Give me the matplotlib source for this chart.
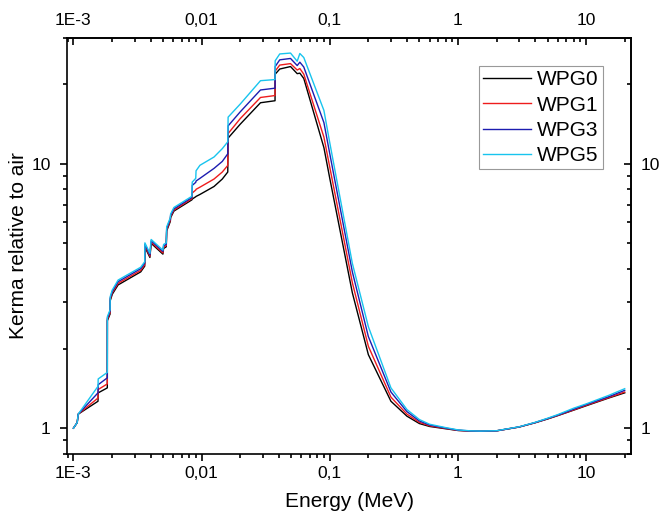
import numpy as np
import matplotlib
matplotlib.use("Agg")
import matplotlib.pyplot as plt
from matplotlib.ticker import LogLocator, FixedLocator, FixedFormatter, NullFormatter

plt.rcParams['font.family'] = ['Liberation Sans', 'DejaVu Sans']

# photon energy grid (keV); close pairs of points make the absorption edges
energy_kev = [1.0, 1.07, 1.09, 1.555, 1.56, 1.838, 1.84, 1.93, 1.935, 2.01, 2.23,
              3.35, 3.60, 3.61, 3.95, 4.04, 4.99, 5.05, 5.30, 5.34, 5.70, 5.73,
              6.08, 8.40, 8.45, 9.00, 9.05, 9.70, 12.5, 14.5, 16.0, 16.1, 20,
              28.8, 37.4, 37.5, 40.7, 49.4, 55.7, 58.4, 62.7, 90, 100, 150, 200,
              300, 400, 500, 600, 800, 1000, 1250, 1500, 2000, 3000, 4000, 5000,
              6000, 8000, 10000, 15000, 20000]

wpg0 = [1.00, 1.05, 1.13, 1.264, 1.36, 1.42, 2.55, 2.70, 3.03, 3.21, 3.48,
        3.90, 4.10, 4.84, 4.42, 5.00, 4.55, 4.78, 4.85, 5.57, 6.05, 6.25,
        6.62, 7.30, 7.35, 7.50, 7.52, 7.65, 8.2, 8.75, 9.3, 12.5, 14.1,
        17.0, 17.3, 21.8, 22.8, 23.3, 21.9, 22.0, 21.0, 11.5, 8.8, 3.25, 1.896,
        1.264, 1.11, 1.041, 1.015, 0.995, 0.98, 0.975, 0.973, 0.977, 1.01, 1.048, 1.083,
        1.115, 1.17, 1.215, 1.30, 1.36]

wpg1 = [1.00, 1.05, 1.13, 1.30, 1.40, 1.47, 2.58, 2.73, 3.07, 3.25, 3.53,
        3.95, 4.15, 4.90, 4.47, 5.05, 4.60, 4.83, 4.90, 5.63, 6.11, 6.31,
        6.68, 7.38, 7.75, 7.95, 8.0, 8.15, 8.75, 9.3, 9.85, 13.0, 14.8,
        17.8, 18.1, 22.4, 23.6, 23.9, 22.6, 22.9, 21.8, 12.6, 9.7, 3.55, 2.04,
        1.31, 1.13, 1.052, 1.021, 0.998, 0.981, 0.975, 0.973, 0.977, 1.01, 1.049, 1.085,
        1.117, 1.173, 1.22, 1.305, 1.37]

wpg3 = [1.00, 1.05, 1.13, 1.36, 1.46, 1.55, 2.61, 2.77, 3.10, 3.29, 3.58,
        4.01, 4.21, 4.96, 4.52, 5.11, 4.66, 4.89, 4.96, 5.70, 6.18, 6.38,
        6.75, 7.45, 8.28, 8.5, 8.6, 8.8, 9.6, 10.2, 10.9, 13.9, 15.7,
        19.0, 19.3, 23.3, 24.7, 25.0, 23.5, 24.2, 23.2, 14.3, 10.9, 3.9, 2.22,
        1.37, 1.155, 1.065, 1.028, 1.001, 0.983, 0.976, 0.974, 0.977, 1.011, 1.05, 1.087,
        1.12, 1.18, 1.228, 1.315, 1.39]

wpg5 = [1.00, 1.05, 1.13, 1.44, 1.535, 1.625, 2.64, 2.80, 3.14, 3.33, 3.63,
        4.06, 4.26, 5.02, 4.58, 5.17, 4.71, 4.95, 5.02, 5.77, 6.25, 6.45,
        6.83, 7.53, 8.52, 8.8, 9.4, 9.86, 10.6, 11.4, 12.1, 15.0, 16.8,
        20.6, 20.8, 24.5, 26.0, 26.2, 24.4, 26.1, 25.2, 15.9, 12.0, 4.2, 2.42,
        1.42, 1.176, 1.078, 1.035, 1.005, 0.985, 0.977, 0.975, 0.978, 1.012, 1.052, 1.09,
        1.125, 1.19, 1.235, 1.33, 1.41]

series_names = ['WPG0', 'WPG1', 'WPG3', 'WPG5']
series_colors = ['#000000', '#ee1c1c', '#1c1cb0', '#18c4ee']

x_ticks = [1e-3, 1e-2, 1e-1, 1, 10]
x_tick_labels = ['1E-3', '0,01', '0,1', '1', '10']
y_ticks = [1, 10]
y_tick_labels = ['1', '10']

energy = np.array(energy_kev) / 1000.0

fig = plt.figure(figsize=(6.61, 5.21), dpi=100)
ax = fig.add_axes([0.101, 0.129, 0.854, 0.799])

for vals, name, col in zip([wpg0, wpg1, wpg3, wpg5], series_names, series_colors):
    ax.plot(energy, vals, color=col, lw=1.0, label=name)

ax.set_xscale('log')
ax.set_yscale('log')
ax.set_xlim(8.87e-4, 22.5)
ax.set_ylim(0.8, 30)


def set_log_ticks(axis, ticks, labels):
    axis.set_major_locator(FixedLocator(ticks))
    axis.set_major_formatter(FixedFormatter(labels))
    axis.set_minor_locator(LogLocator(base=10, subs=np.arange(2, 10)))
    axis.set_minor_formatter(NullFormatter())


set_log_ticks(ax.xaxis, x_ticks, x_tick_labels)
set_log_ticks(ax.yaxis, y_ticks, y_tick_labels)

for sp in ax.spines.values():
    sp.set_linewidth(1.2)

# bottom / left: ticks pointing out
ax.tick_params(which='both', direction='out', width=1.2, labelsize=12.5)
ax.tick_params(which='major', length=5)
ax.tick_params(which='minor', length=3)
ax.tick_params(axis='x', which='major', pad=4)
ax.tick_params(axis='y', which='major', pad=6.5)

# top / right: mirrored axes with ticks pointing in
top = ax.secondary_xaxis('top')
set_log_ticks(top.xaxis, x_ticks, x_tick_labels)
top.tick_params(which='both', direction='in', width=1.2, labelsize=12.5)
top.tick_params(which='major', length=5, pad=7)
top.tick_params(which='minor', length=3)
top.spines['top'].set_linewidth(1.2)

right = ax.secondary_yaxis('right')
set_log_ticks(right.yaxis, y_ticks, y_tick_labels)
right.tick_params(which='both', direction='in', width=1.2, labelsize=12.5)
right.tick_params(which='major', length=5, pad=7)
right.tick_params(which='minor', length=3)
right.spines['right'].set_linewidth(1.2)

ax.set_xlabel('Energy (MeV)', fontsize=15, labelpad=8)
ax.set_ylabel('Kerma relative to air', fontsize=15, labelpad=2.5)

leg = ax.legend(loc='upper right', bbox_to_anchor=(0.95, 0.931), fontsize=15,
                frameon=True, fancybox=False, edgecolor='#808080',
                handlelength=2.3, handletextpad=0.3, labelspacing=0.3,
                borderpad=0.2, borderaxespad=0)
leg.get_frame().set_linewidth(0.8)

fig.savefig('out.png', dpi=100)
